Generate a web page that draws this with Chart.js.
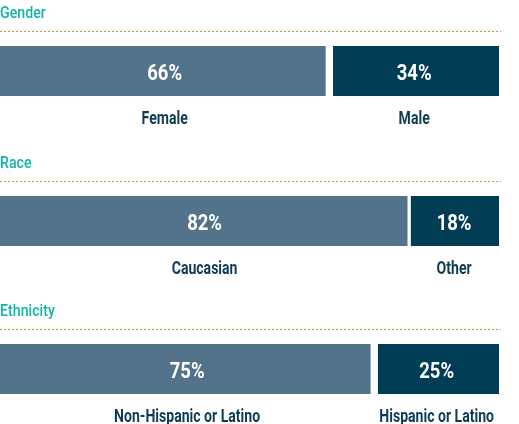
<!DOCTYPE html>
<html>
<head>
<meta charset="utf-8">
<script src="https://cdn.jsdelivr.net/npm/chart.js@4"></script>
<style>
  html, body { margin: 0; padding: 0; background: #fff; }
  body { width: 519px; height: 424px; position: relative; overflow: hidden; }
  canvas { position: absolute; left: 0; }
</style>
</head>
<body>
<div id="wrap"></div>
<script>
const SECTIONS = ['Gender', 'Race', 'Ethnicity'];
const LEFT_LABELS = ['Female', 'Caucasian', 'Non-Hispanic or Latino'];
const RIGHT_LABELS = ['Male', 'Other', 'Hispanic or Latino'];
const LEFT_VALUES = [66, 82, 75];
const RIGHT_VALUES = [34, 18, 25];

const LIGHT = '#52738a';
const DARK = '#023d56';
const TEAL = '#12b4a6';
const INK = '#0e3c55';
const GOLD = '#c49e36';
const FONT = 'Roboto, sans-serif';

// block layout: top of each block, its height, gap between segments
const TOPS = [0, 150, 298];
const HEIGHTS = [150, 148, 126];
const GAPS = [8, 4, 8];

// draw text squeezed horizontally to mimic the condensed face
function narrowText(ctx, text, x, y, sx) {
    ctx.save();
    ctx.translate(x, y);
    ctx.scale(sx, 1);
    ctx.fillText(text, 0, 0);
    ctx.restore();
}

const blockDecor = {
    id: 'blockDecor',
    afterDatasetsDraw(chart) {
        const { ctx } = chart;
        ctx.save();
        // heading + dotted rule
        ctx.textBaseline = 'alphabetic';
        ctx.textAlign = 'left';
        ctx.fillStyle = TEAL;
        ctx.font = `500 16.5px ${FONT}`;
        narrowText(ctx, chart.data.labels[0], 0, 17.5, 0.86);
        ctx.strokeStyle = GOLD;
        ctx.lineWidth = 1;
        ctx.setLineDash([2, 2]);
        ctx.beginPath();
        ctx.moveTo(0, 31.5);
        ctx.lineTo(501, 31.5);
        ctx.stroke();
        ctx.setLineDash([]);

        ctx.textAlign = 'center';
        chart.data.datasets.forEach((ds, i) => {
            const bar = chart.getDatasetMeta(i).data[0];
            const cx = (bar.x + bar.base) / 2;
            ctx.fillStyle = '#ffffff';
            ctx.font = `700 22px ${FONT}`;
            narrowText(ctx, ds.data[0] + '%', cx, bar.y + 8.5, 0.84);
            ctx.fillStyle = INK;
            ctx.font = `700 19px ${FONT}`;
            narrowText(ctx, ds.label, cx, bar.y + bar.height / 2 + 27.5, 0.74);
        });
        ctx.restore();
    }
};

const wrap = document.getElementById('wrap');

SECTIONS.forEach((name, i) => {
    const canvas = document.createElement('canvas');
    canvas.width = 519;
    canvas.height = HEIGHTS[i];
    canvas.style.top = TOPS[i] + 'px';
    wrap.appendChild(canvas);

    const half = GAPS[i] / 2;
    new Chart(canvas, {
        type: 'bar',
        data: {
            labels: [name],
            datasets: [
                { label: LEFT_LABELS[i], data: [LEFT_VALUES[i]], backgroundColor: LIGHT, borderColor: '#ffffff',
                  borderWidth: { left: 0, right: half, top: 0, bottom: 0 }, borderSkipped: false },
                { label: RIGHT_LABELS[i], data: [RIGHT_VALUES[i]], backgroundColor: DARK, borderColor: '#ffffff',
                  borderWidth: { left: half, right: 0, top: 0, bottom: 0 }, borderSkipped: false },
            ],
        },
        options: {
            indexAxis: 'y',
            responsive: false,
            animation: false,
            layout: { padding: { top: 46, bottom: HEIGHTS[i] - 96, left: 0, right: 20 } },
            datasets: { bar: { barPercentage: 1, categoryPercentage: 1 } },
            plugins: { legend: { display: false }, tooltip: { enabled: false } },
            scales: {
                x: { stacked: true, min: 0, max: 100, display: false },
                y: { stacked: true, display: false },
            },
        },
        plugins: [blockDecor],
    });
});
</script>
</body>
</html>
